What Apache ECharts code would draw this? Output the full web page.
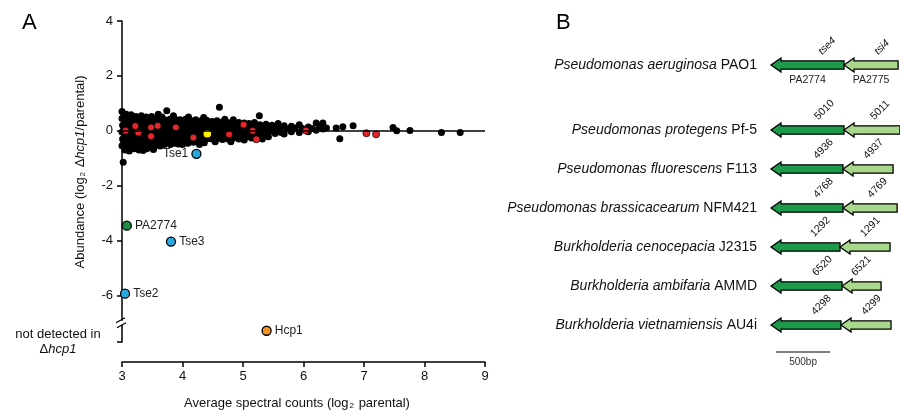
<!DOCTYPE html>
<html>
<head>
<meta charset="utf-8">
<script src="https://cdn.jsdelivr.net/npm/echarts@6.0.0/dist/echarts.min.js"></script>
<style>
  html, body { margin: 0; padding: 0; background: #fff; }
  #main { width: 900px; height: 416px; }
</style>
</head>
<body>
<div id="main"></div>
<script>
// ---- panel A data: x = average spectral counts (log2 parental), y = log2 (dhcp1 / parental)
var otherProteins = [
  [3.00,0.70],[3.00,0.45],[3.01,0.20],[3.00,-0.05],[3.01,-0.30],[3.00,-0.55],
  [3.03,0.55],[3.04,0.30],[3.03,0.05],[3.04,-0.20],[3.03,-0.45],[3.05,-0.70],[3.02,-1.15],
  [3.07,0.60],[3.08,0.35],[3.07,0.10],[3.08,-0.12],[3.07,-0.38],[3.08,-0.62],
  [3.11,0.48],[3.12,0.22],[3.11,-0.02],[3.12,-0.28],[3.11,-0.50],[3.12,-0.74],
  [3.15,0.58],[3.16,0.38],[3.15,0.12],[3.16,-0.15],[3.15,-0.40],[3.16,-0.60],
  [3.19,0.45],[3.20,0.25],[3.19,0.02],[3.20,-0.22],[3.19,-0.48],[3.20,-0.66],
  [3.23,0.52],[3.24,0.30],[3.23,0.08],[3.24,-0.10],[3.23,-0.35],[3.24,-0.58],
  [3.28,0.40],[3.28,0.18],[3.27,-0.05],[3.28,-0.30],[3.29,-0.52],[3.28,-0.70],
  [3.32,0.55],[3.33,0.28],[3.32,0.05],[3.33,-0.18],[3.32,-0.42],[3.35,-0.72],
  [3.36,0.42],[3.37,0.20],[3.36,-0.08],[3.37,-0.32],[3.36,-0.60],
  [3.40,0.50],[3.41,0.26],[3.40,0.02],[3.41,-0.22],[3.40,-0.48],[3.41,-0.66],
  [3.45,0.38],[3.45,0.14],[3.44,-0.10],[3.45,-0.35],[3.46,-0.55],
  [3.49,0.52],[3.50,0.30],[3.49,0.06],[3.50,-0.20],[3.49,-0.44],[3.52,-0.68],
  [3.53,0.40],[3.54,0.16],[3.53,-0.06],[3.54,-0.30],[3.53,-0.60],
  [3.57,0.46],[3.58,0.24],[3.57,0.00],[3.58,-0.24],[3.57,-0.50],[3.60,0.60],
  [3.62,0.35],[3.62,0.12],[3.61,-0.12],[3.62,-0.38],[3.63,-0.56],
  [3.66,0.50],[3.67,0.28],[3.66,0.04],[3.67,-0.20],[3.66,-0.45],
  [3.70,0.40],[3.71,0.18],[3.70,-0.06],[3.71,-0.30],[3.70,-0.50],
  [3.74,0.73],[3.75,0.30],[3.74,0.08],[3.75,-0.16],[3.74,-0.42],
  [3.79,0.42],[3.79,0.20],[3.78,-0.04],[3.79,-0.28],[3.80,-0.50],
  [3.83,0.34],[3.84,0.10],[3.83,-0.12],[3.84,-0.36],[3.85,0.55],
  [3.87,0.44],[3.88,0.22],[3.87,-0.02],[3.88,-0.26],[3.87,-0.46],
  [3.92,0.36],[3.92,0.14],[3.91,-0.10],[3.92,-0.34],[3.93,-0.48],
  [3.96,0.40],[3.97,0.20],[3.96,-0.05],[3.97,-0.28],
  [4.00,0.30],[4.01,0.08],[4.00,-0.16],[4.01,-0.40],[4.00,-0.50],
  [4.05,0.42],[4.05,0.20],[4.04,-0.02],[4.05,-0.26],
  [4.09,0.34],[4.10,0.12],[4.09,-0.10],[4.10,-0.34],[4.09,-0.46],[4.10,0.50],
  [4.13,0.38],[4.14,0.16],[4.13,-0.06],[4.14,-0.30],
  [4.18,0.30],[4.18,0.08],[4.17,-0.14],[4.18,-0.42],
  [4.22,0.40],[4.23,0.20],[4.22,-0.02],[4.23,-0.24],
  [4.26,0.32],[4.27,0.10],[4.26,-0.12],[4.27,-0.36],[4.28,-0.50],
  [4.31,0.36],[4.31,0.16],[4.30,-0.06],[4.31,-0.28],
  [4.35,0.28],[4.36,0.06],[4.35,-0.18],[4.36,-0.44],[4.35,0.48],
  [4.40,0.38],[4.40,0.18],[4.39,-0.30],
  [4.44,0.30],[4.45,0.10],[4.44,-0.28],
  [4.49,0.34],[4.49,0.14],[4.48,-0.06],[4.49,-0.30],
  [4.53,0.26],[4.54,0.04],[4.53,-0.18],[4.54,-0.40],
  [4.57,0.36],[4.58,0.16],[4.57,-0.08],[4.58,-0.28],
  [4.61,0.86],[4.62,0.28],[4.61,0.06],[4.62,-0.16],
  [4.66,0.32],[4.66,0.12],[4.65,-0.10],[4.66,-0.32],
  [4.70,0.24],[4.71,0.04],[4.70,-0.20],[4.70,0.42],
  [4.75,0.30],[4.75,0.10],[4.74,-0.08],[4.75,-0.30],
  [4.79,0.22],[4.80,0.02],[4.79,-0.20],[4.80,-0.40],
  [4.84,0.40],[4.84,0.16],[4.83,-0.04],[4.84,-0.26],
  [4.88,0.26],[4.89,0.06],[4.88,-0.14],
  [4.93,0.30],[4.93,0.10],[4.92,-0.10],[4.93,-0.30],
  [4.97,0.20],[4.98,0.00],[4.97,-0.20],
  [5.02,0.28],[5.02,0.08],[5.01,-0.12],[5.02,-0.34],
  [5.06,0.18],[5.07,-0.02],[5.06,-0.22],
  [5.10,0.26],[5.11,0.06],[5.10,-0.14],
  [5.15,0.20],[5.15,-0.06],[5.14,-0.26],
  [5.19,0.30],[5.20,0.08],[5.19,-0.12],
  [5.24,0.14],[5.25,-0.04],[5.24,-0.20],[5.27,0.55],
  [5.28,0.22],[5.29,0.02],[5.28,-0.16],
  [5.33,0.12],[5.33,-0.08],[5.32,-0.30],
  [5.38,0.24],[5.38,0.04],[5.37,-0.14],
  [5.43,0.14],[5.43,-0.04],[5.42,-0.22],
  [5.48,0.20],[5.48,0.02],[5.53,0.10],[5.53,-0.10],
  [5.58,0.26],[5.58,0.04],[5.62,0.12],[5.63,-0.06],
  [5.68,0.18],[5.68,-0.12],[5.73,0.06],[5.80,0.16],[5.80,-0.04],[5.86,0.10],
  [5.93,0.22],[5.93,-0.06],[5.98,0.08],[6.08,0.14],[6.08,-0.04],[6.14,0.08],
  [6.21,0.28],[6.21,0.02],[6.27,0.16],[6.32,0.28],[6.32,0.06],[6.38,0.10],
  [6.54,0.10],[6.60,-0.29],[6.65,0.15],[6.82,0.18],
  [7.48,0.12],[7.54,0.00],[7.76,0.01],[8.28,-0.06],[8.59,-0.06]
];
var t6ssProteins = [
  [3.06,0.00],[3.22,0.17],[3.27,-0.07],[3.48,0.12],[3.59,0.18],[3.48,-0.20],
  [3.89,0.12],[4.18,-0.25],[4.77,-0.13],[5.01,0.22],[5.16,0.00],[5.22,-0.31],
  [6.04,0.01],[7.04,-0.09],[7.20,-0.13]
];
var hitNames = ['Tse1', 'Tse2', 'Tse3', 'PA2774', 'Hcp1', ''];
var hitX = [4.23, 3.05, 3.81, 3.08, 5.39, 4.41];
var hitY = [-0.84, -5.94, -4.04, -3.46, -7.29, -0.11];
var notDetected = -7.7;   // where undetected proteins sit on the axis
var breakAt = -7;

// ---- panel B data
var genus = ['Pseudomonas aeruginosa', 'Pseudomonas protegens', 'Pseudomonas fluorescens',
  'Pseudomonas brassicacearum', 'Burkholderia cenocepacia', 'Burkholderia ambifaria',
  'Burkholderia vietnamiensis'];
var strains = ['PAO1', 'Pf-5', 'F113', 'NFM421', 'J2315', 'AMMD', 'AU4i'];
var tseLen = [674, 674, 665, 665, 637, 656, 646];   // bp
var tsiLen = [499, 517, 462, 499, 462, 360, 462];   // bp
var tseIds = ['tse4', '5010', '4936', '4768', '1292', '6520', '4298'];
var tsiIds = ['tsi4', '5011', '4937', '4769', '1291', '6521', '4299'];
var paoLocus = ['PA2774', 'PA2775'];
var scaleBarBp = 500;

var FONT = "'Liberation Sans', Arial, Helvetica, sans-serif";
var DARK = '#1c9a4a', LIGHT = '#a9d78c';
var hitColors = ['#29a9e0', '#29a9e0', '#29a9e0', '#1e8a45', '#f39323', '#fff200'];
var hitPos = ['left', 'right', 'right', 'right', 'right', 'right'];

var chart = echarts.init(document.getElementById('main'));

function arrow(x0, x1, yc, fill) {
  var h = Math.min(10, x1 - x0);
  return {
    type: 'polygon',
    shape: { points: [[x0, yc], [x0 + h, yc - 7], [x0 + h, yc - 4.2], [x1, yc - 4.2],
      [x1, yc + 4.2], [x0 + h, yc + 4.2], [x0 + h, yc + 7]] },
    style: { fill: fill, stroke: '#000', lineWidth: 1.3 }
  };
}

function idText(txt, x, y, italic) {
  return {
    type: 'text', x: x, y: y, rotation: Math.PI / 4,
    style: { text: txt, fontSize: 10.5, fontFamily: FONT, fontStyle: italic ? 'italic' : 'normal',
      fill: '#111', align: 'left', verticalAlign: 'bottom' }
  };
}

function geneRenderer(rowOffset) {
  return function (params, api) {
    var row = api.value(0);
    var i = row + rowOffset;
    var a = api.coord([0, row]);
    var b = api.coord([tseLen[i], row]);
    var c = api.coord([tseLen[i] + tsiLen[i], row]);
    var yc = a[1];
    var kids = [
      arrow(a[0], b[0], yc, DARK),
      arrow(b[0], c[0], yc, LIGHT),
      idText(tseIds[i], b[0] - (i === 0 ? 20 : 24), yc - 8, i === 0),
      idText(tsiIds[i], c[0] - (i === 0 ? 18 : 24), yc - 8, i === 0)
    ];
    if (i === 0) {
      kids.push({ type: 'text', x: (a[0] + b[0]) / 2, y: yc + 15,
        style: { text: paoLocus[0], fontSize: 10.5, fontFamily: FONT, fill: '#222', align: 'center', verticalAlign: 'middle' } });
      kids.push({ type: 'text', x: (b[0] + c[0]) / 2, y: yc + 15,
        style: { text: paoLocus[1], fontSize: 10.5, fontFamily: FONT, fill: '#222', align: 'center', verticalAlign: 'middle' } });
    }
    return { type: 'group', children: kids };
  };
}

function organismLabel(offset) {
  return function (v, idx) {
    return '{i|' + genus[idx + offset] + '} ' + strains[idx + offset];
  };
}
var orgRich = { i: { fontStyle: 'italic', fontSize: 14, fontFamily: FONT, color: '#111' } };

function rowData(from, to) {
  var out = [];
  for (var k = from; k < to; k++) out.push([k - from, tseLen[k], tsiLen[k]]);
  return out;
}

var axisBlack = { color: '#000', width: 1.5 };

var option = {
  animation: false,
  textStyle: { fontFamily: FONT },
  grid: [
    { left: 122, top: 21, width: 363, bottom: 74, outerBoundsMode: 'none' },
    { left: 771, top: 55, width: 130, height: 20, outerBoundsMode: 'none' },
    { left: 771, top: 110.5, width: 130, height: 234, outerBoundsMode: 'none' }
  ],
  xAxis: [
    { gridIndex: 0, type: 'value', min: 3, max: 9, interval: 1, offset: 20,
      axisLine: { onZero: false, lineStyle: axisBlack },
      axisTick: { length: 5, lineStyle: axisBlack },
      axisLabel: { color: '#111', fontSize: 13, margin: 8 },
      splitLine: { show: false } },
    { gridIndex: 1, type: 'value', min: 0, max: 1200, show: false },
    { gridIndex: 2, type: 'value', min: 0, max: 1200, show: false }
  ],
  yAxis: [
    { gridIndex: 0, type: 'value', min: notDetected, max: 4,
      axisLine: { show: true, onZero: false, lineStyle: axisBlack },
      axisTick: { show: true, length: 5, lineStyle: axisBlack, customValues: [notDetected, -6, -4, -2, 0, 2, 4] },
      axisLabel: { color: '#111', fontSize: 13, margin: 9, customValues: [-6, -4, -2, 0, 2, 4] },
      splitLine: { show: false } },
    { gridIndex: 1, type: 'category', inverse: true, data: genus.slice(0, 1),
      axisLine: { show: false }, axisTick: { show: false },
      axisLabel: { margin: 14, fontSize: 14, color: '#111', formatter: organismLabel(0), rich: orgRich } },
    { gridIndex: 2, type: 'category', inverse: true, data: genus.slice(1),
      axisLine: { show: false }, axisTick: { show: false },
      axisLabel: { margin: 14, fontSize: 14, color: '#111', formatter: organismLabel(1), rich: orgRich } }
  ],
  graphic: [
    { type: 'text', left: 22, top: 12, style: { text: 'A', fontSize: 22, fontFamily: FONT, fill: '#000' } },
    { type: 'text', left: 556, top: 12, style: { text: 'B', fontSize: 22, fontFamily: FONT, fill: '#000' } },
    { type: 'text', x: 80, y: 172, rotation: Math.PI / 2,
      style: { text: 'Abundance (log{s|2} Δ{i|hcp1}/parental)', fontSize: 13, fontFamily: FONT, fill: '#111',
        align: 'center', verticalAlign: 'middle',
        rich: { s: { fontSize: 8, verticalAlign: 'bottom', padding: [6, 1, 0, 1] },
                i: { fontStyle: 'italic', fontSize: 13 } } } },
    { type: 'text', x: 297, y: 403,
      style: { text: 'Average spectral counts (log{s|2} parental)', fontSize: 13, fontFamily: FONT, fill: '#111',
        align: 'center', verticalAlign: 'middle',
        rich: { s: { fontSize: 8, verticalAlign: 'bottom', padding: [6, 1, 0, 1] } } } },
    { type: 'text', x: 58, y: 342,
      style: { text: 'not detected in\nΔ{i|hcp1}', fontSize: 13, fontFamily: FONT, fill: '#111', lineHeight: 15,
        align: 'center', verticalAlign: 'middle',
        rich: { i: { fontStyle: 'italic', fontSize: 13, lineHeight: 15 } } } }
  ],
  series: [
    { type: 'scatter', xAxisIndex: 0, yAxisIndex: 0, data: otherProteins, symbolSize: 7, clip: false,
      itemStyle: { color: '#000', opacity: 1 },
      markLine: { silent: true, symbol: 'none', label: { show: false },
        lineStyle: { color: '#000', width: 1.5, type: 'solid' }, data: [{ yAxis: 0 }] } },
    { type: 'scatter', xAxisIndex: 0, yAxisIndex: 0, data: t6ssProteins, symbolSize: 7, clip: false,
      itemStyle: { color: '#e5262b', borderColor: '#000', borderWidth: 0.8, opacity: 1 } },
    { type: 'scatter', xAxisIndex: 0, yAxisIndex: 0, symbolSize: 9, clip: false,
      itemStyle: { borderColor: '#000', borderWidth: 1.3, opacity: 1 },
      label: { show: true, formatter: '{b}', fontSize: 12, color: '#222', distance: 3 },
      data: hitNames.map(function (n, i) {
        return { name: n, value: [hitX[i], hitY[i]], itemStyle: { color: hitColors[i] },
          label: { position: hitPos[i] } };
      }) },
    { type: 'custom', xAxisIndex: 0, yAxisIndex: 0, data: [[3, breakAt]], silent: true,
      renderItem: function (params, api) {
        var p = api.coord([api.value(0), api.value(1)]);
        var x = p[0] - 1, y = p[1];
        return { type: 'group', children: [
          { type: 'rect', shape: { x: x - 3, y: y - 2, width: 6, height: 4 }, style: { fill: '#fff' } },
          { type: 'line', shape: { x1: x - 5, y1: y, x2: x + 4, y2: y - 5 }, style: { stroke: '#000', lineWidth: 1.3 } },
          { type: 'line', shape: { x1: x - 4, y1: y + 5, x2: x + 5, y2: y }, style: { stroke: '#000', lineWidth: 1.3 } }
        ] };
      } },
    { type: 'custom', xAxisIndex: 1, yAxisIndex: 1, data: rowData(0, 1), encode: { x: 1, y: 0 },
      renderItem: geneRenderer(0) },
    { type: 'custom', xAxisIndex: 2, yAxisIndex: 2, data: rowData(1, 7), encode: { x: 1, y: 0 },
      renderItem: geneRenderer(1) },
    { type: 'custom', xAxisIndex: 2, yAxisIndex: 2, data: [[0, 5]], encode: { x: 0, y: 1 },
      renderItem: function (params, api) {
        var row = api.value(1);
        var p1 = api.coord([46, row]), p2 = api.coord([46 + scaleBarBp, row]);
        var y = p1[1] + 27;
        return { type: 'group', children: [
          { type: 'line', shape: { x1: p1[0], y1: y, x2: p2[0], y2: y }, style: { stroke: '#000', lineWidth: 1.2 } },
          { type: 'text', x: (p1[0] + p2[0]) / 2, y: y + 10,
            style: { text: scaleBarBp + 'bp', fontSize: 10, fontFamily: FONT, fill: '#333', align: 'center', verticalAlign: 'middle' } }
        ] };
      } }
  ]
};

chart.setOption(option);
</script>
</body>
</html>
